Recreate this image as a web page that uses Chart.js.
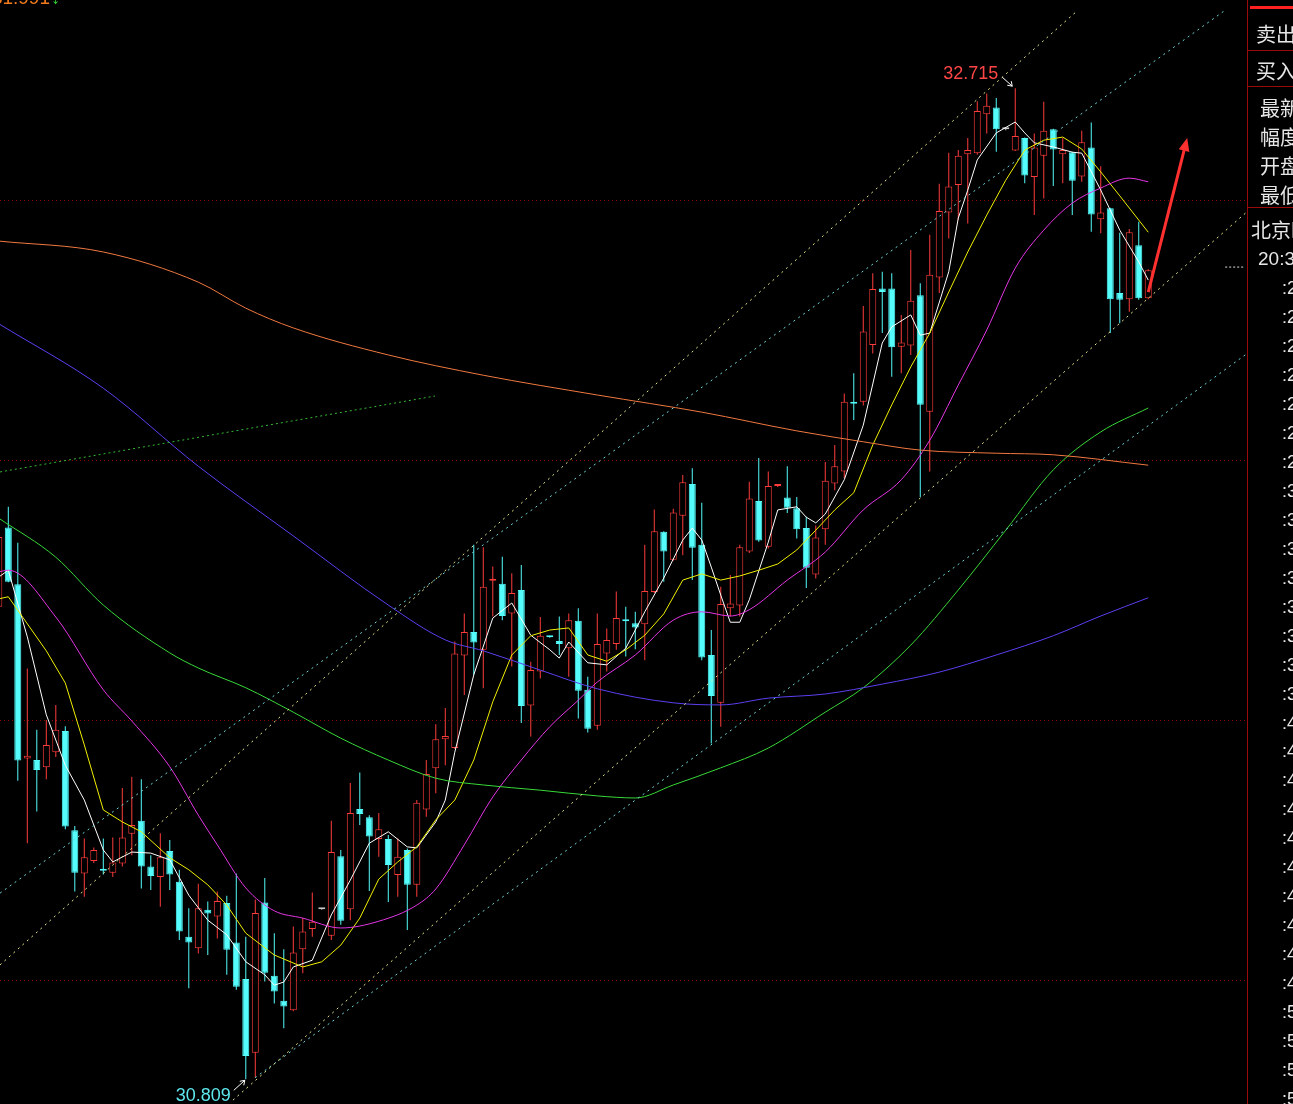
<!DOCTYPE html>
<html><head><meta charset="utf-8">
<script src="https://cdn.jsdelivr.net/npm/chart.js@4.4.1/dist/chart.umd.min.js"></script>
<style>html,body{margin:0;padding:0;background:#000;overflow:hidden}canvas{display:block}</style>
</head><body>
<canvas id="c" width="1293" height="1104"></canvas>
<script>
// ---------- candle data (index, open, high, low, close) ----------
const candleIdx = [];
for (let i = -1; i <= 120; i++) candleIdx.push(i);
const opens = [31.718,31.870,31.761,31.426,31.423,31.409,31.438,31.479,31.288,31.205,31.229,31.212,31.206,31.224,31.281,31.306,31.218,31.198,31.248,31.189,31.083,31.061,31.135,31.122,31.148,31.072,31.002,30.860,31.149,31.008,30.960,30.942,31.059,31.098,31.136,31.085,31.238,31.136,31.329,31.313,31.271,31.271,31.202,31.250,31.183,31.328,31.407,31.463,31.446,31.624,31.669,31.635,31.768,31.762,31.705,31.750,31.528,31.593,31.661,31.652,31.638,31.691,31.558,31.489,31.628,31.646,31.692,31.686,31.684,31.746,31.862,31.808,31.893,31.954,31.837,31.625,31.533,31.715,31.720,31.824,31.921,31.833,31.950,31.928,31.907,31.869,31.780,31.867,31.955,31.978,32.110,32.112,32.221,32.330,32.330,32.218,32.220,32.317,32.093,32.351,32.476,32.529,32.588,32.590,32.665,32.678,32.636,32.595,32.619,32.544,32.585,32.636,32.588,32.592,32.545,32.601,32.463,32.484,32.321,32.309,32.413,32.311];
const highs = [31.880,31.910,31.841,31.599,31.481,31.500,31.529,31.488,31.296,31.272,31.255,31.272,31.274,31.369,31.391,31.386,31.240,31.282,31.269,31.212,31.138,31.185,31.151,31.170,31.162,31.205,31.083,31.155,31.196,31.090,31.059,31.103,31.119,31.168,31.137,31.306,31.250,31.379,31.399,31.317,31.321,31.279,31.272,31.253,31.346,31.423,31.492,31.523,31.651,31.705,31.837,31.832,31.795,31.814,31.782,31.798,31.612,31.698,31.662,31.699,31.705,31.715,31.583,31.705,31.676,31.747,31.718,31.708,31.837,31.905,31.863,31.906,31.971,31.984,31.918,31.673,31.756,31.779,31.837,31.958,32.004,31.978,31.953,31.988,31.929,31.891,31.874,31.996,32.029,32.128,32.167,32.296,32.359,32.362,32.359,32.279,32.404,32.340,32.433,32.531,32.591,32.596,32.619,32.690,32.705,32.696,32.638,32.715,32.620,32.628,32.689,32.637,32.619,32.593,32.633,32.649,32.565,32.485,32.437,32.444,32.458,32.367];
const lows = [31.700,31.765,31.383,31.263,31.324,31.386,31.429,31.290,31.170,31.160,31.225,31.203,31.198,31.218,31.240,31.176,31.173,31.141,31.173,31.077,30.984,31.051,31.048,31.080,31.010,30.981,30.809,30.812,30.997,30.955,30.907,30.940,31.013,31.083,31.135,31.077,31.106,31.115,31.298,31.171,31.237,31.150,31.160,31.096,31.160,31.314,31.359,31.413,31.444,31.548,31.587,31.561,31.699,31.692,31.603,31.494,31.468,31.580,31.658,31.625,31.583,31.503,31.476,31.481,31.593,31.635,31.622,31.636,31.615,31.744,31.766,31.806,31.817,31.769,31.615,31.455,31.487,31.699,31.699,31.821,31.843,31.830,31.948,31.898,31.849,31.754,31.772,31.837,31.942,31.965,32.077,32.105,32.205,32.244,32.160,32.167,32.202,31.929,31.978,32.321,32.426,32.462,32.455,32.587,32.628,32.593,32.634,32.594,32.532,32.471,32.503,32.527,32.532,32.471,32.535,32.439,32.436,32.244,32.263,32.285,32.308,32.309];
const closes = [31.852,31.766,31.422,31.431,31.404,31.452,31.481,31.295,31.206,31.236,31.250,31.210,31.226,31.274,31.298,31.218,31.200,31.236,31.203,31.093,31.072,31.138,31.128,31.152,31.058,30.987,30.854,31.129,31.014,30.978,30.949,31.053,31.093,31.112,31.136,31.246,31.114,31.321,31.319,31.276,31.290,31.221,31.237,31.183,31.341,31.396,31.463,31.469,31.628,31.669,31.649,31.756,31.771,31.700,31.744,31.527,31.596,31.662,31.659,31.646,31.692,31.556,31.483,31.646,31.654,31.696,31.690,31.678,31.748,31.863,31.824,31.899,31.957,31.831,31.620,31.546,31.723,31.724,31.832,31.926,31.845,31.950,31.951,31.908,31.867,31.793,31.851,31.960,31.988,32.112,32.108,32.247,32.329,32.323,32.217,32.226,32.306,32.106,32.356,32.479,32.526,32.585,32.596,32.671,32.681,32.636,32.636,32.623,32.547,32.601,32.633,32.597,32.596,32.537,32.611,32.472,32.476,32.309,32.308,32.438,32.311,32.365];

// ---------- moving averages (index, value) ----------
const ma5Idx = [-1,0,2,4,6,8,10,11,13,15,17,19,21,23,25,27,28,29,30,32,34,36,38,40,42,43,45,46,47,49,51,53,55,57,58,59,61,63,65,67,69,71,72,73,74,75,76,77,78,80,81,83,84,85,86,88,90,92,93,95,96,97,99,100,101,102,104,106,107,108,110,112,113,115,117,119,120];
const ma5 = [31.775,31.788,31.660,31.510,31.413,31.346,31.250,31.227,31.246,31.244,31.231,31.163,31.115,31.087,31.035,31.010,30.990,30.996,31.025,31.038,31.125,31.192,31.263,31.285,31.256,31.254,31.304,31.346,31.438,31.587,31.696,31.725,31.663,31.635,31.619,31.650,31.610,31.606,31.638,31.708,31.773,31.846,31.869,31.846,31.794,31.740,31.688,31.688,31.731,31.842,31.904,31.910,31.890,31.879,31.896,31.962,32.067,32.225,32.256,32.279,32.240,32.244,32.362,32.465,32.519,32.577,32.629,32.650,32.629,32.610,32.602,32.592,32.590,32.519,32.442,32.381,32.346];
const ma10Idx = [-1,0,4,6,8,10,12,14,17,19,21,23,25,28,31,33,35,37,39,41,43,45,47,49,51,53,55,57,59,61,63,65,67,69,71,73,75,77,79,81,83,85,87,89,91,93,95,97,99,101,103,105,107,109,111,113,115,117,120];
const ma10 = [31.733,31.737,31.633,31.571,31.452,31.327,31.304,31.285,31.235,31.212,31.183,31.144,31.090,31.048,31.025,31.035,31.067,31.119,31.194,31.227,31.256,31.308,31.346,31.423,31.535,31.625,31.662,31.673,31.677,31.625,31.613,31.635,31.663,31.704,31.769,31.781,31.769,31.777,31.788,31.800,31.827,31.865,31.904,31.937,32.029,32.106,32.179,32.244,32.323,32.400,32.471,32.538,32.596,32.615,32.621,32.598,32.554,32.508,32.438];
const ma20Idx = [-1,0,5,10,13,17,20,22,25,28,31,35,39,43,45,48,51,54,57,60,62,66,70,73,76,78,82,86,90,94,97,100,103,106,109,112,115,118,120];
const ma20 = [31.785,31.788,31.698,31.558,31.498,31.410,31.317,31.260,31.177,31.133,31.119,31.100,31.113,31.144,31.175,31.260,31.352,31.423,31.487,31.538,31.573,31.625,31.692,31.708,31.700,31.712,31.769,31.823,31.904,31.962,32.038,32.144,32.250,32.369,32.442,32.494,32.523,32.542,32.535];
const ma60Idx = [-1,5,10,17,20,25,30,35,40,45,50,56,62,66,70,75,80,86,90,95,100,105,110,115,120];
const ma60 = [31.888,31.813,31.721,31.629,31.600,31.562,31.515,31.465,31.423,31.388,31.375,31.365,31.354,31.350,31.375,31.408,31.446,31.515,31.562,31.644,31.750,31.865,31.981,32.054,32.100];
const ma120Idx = [-1,10,20,30,40,46,50,56,62,70,75,80,86,92,98,104,110,115,120];
const ma120 = [32.262,32.138,31.988,31.854,31.721,31.654,31.633,31.596,31.560,31.533,31.529,31.542,31.550,31.569,31.592,31.625,31.662,31.700,31.735];
const ma250Idx = [-1,10,20,25,30,40,50,62,73,83,90,96,104,110,120];
const ma250 = [32.421,32.400,32.342,32.292,32.254,32.202,32.163,32.125,32.092,32.056,32.035,32.019,32.013,32.010,31.990];

// ---------- drawn trend lines (index, price endpoints) ----------
const upYellowIdx = [-0.87, 112.6], upYellowVal = [31.029, 32.865];
const lowYellowIdx = [23.65, 130.5], lowYellowVal = [30.769, 32.479];
const upCyanIdx = [-0.87, 128.1], upCyanVal = [31.167, 32.865];
const lowCyanIdx = [25.97, 130.5], lowCyanVal = [30.812, 32.206];
const greenDotIdx = [-0.87, 44.92], greenDotVal = [31.977, 32.123];
const markIdx = [128.1, 130.2], markVal = [32.371, 32.371];
const arrowIdx = [120.0, 124.1], arrowVal = [32.323, 32.619];

// ---------- labels ----------
const gridPrices = [31.0, 31.5, 32.0, 32.5];
const hiIdx = 106, hiVal = 32.715;
const loIdx = 25, loVal = 30.809;
const topLeftText = '31.991';
const panelTop = ['卖出价', '买入价'];
const panelMid = ['最新价', '幅度', '开盘价', '最低价'];
const panelCity = '北京时间';
const panelClock = '20:32';
const timeRows = [':21',':22',':23',':24',':25',':26',':27',':30',':31',':32',':33',':34',':35',':36',':37',':40',':41',':42',':43',':44',':45',':46',':47',':48',':49',':50',':51',':52',':53'];

const RED = '#ff3c3c', CYAN = '#54fcfc', GRAY = '#c8c8c8';
const dir = candleIdx.map((_, k) => closes[k] > opens[k] ? 1 : (closes[k] < opens[k] ? -1 : 0));
const col = dir.map(d => d > 0 ? RED : (d < 0 ? CYAN : GRAY));
const pts = (ix, vals) => ix.map((x, k) => ({x, y: vals[k]}));

const bgPlugin = {
  id: 'bg',
  beforeDraw(chart) {
    const c = chart.ctx; c.save(); c.fillStyle = '#000'; c.fillRect(0, 0, chart.width, chart.height); c.restore();
  },
  beforeDatasetsDraw(chart) {
    const {ctx, chartArea, scales: {y}} = chart;
    ctx.save(); ctx.strokeStyle = '#8a0000'; ctx.lineWidth = 1; ctx.setLineDash([1, 3]);
    gridPrices.forEach(v => {
      const py = Math.round(y.getPixelForValue(v)) + 0.5;
      ctx.beginPath(); ctx.moveTo(chartArea.left, py); ctx.lineTo(chartArea.right, py); ctx.stroke();
    });
    ctx.restore();
  }
};

function arrowLine(ctx, x1, y1, x2, y2, color, w, head) {
  ctx.save(); ctx.strokeStyle = color; ctx.fillStyle = color; ctx.lineWidth = w;
  const a = Math.atan2(y2 - y1, x2 - x1);
  const bx = x2 - head * 0.8 * Math.cos(a), by = y2 - head * 0.8 * Math.sin(a);
  ctx.beginPath(); ctx.moveTo(x1, y1); ctx.lineTo(bx, by); ctx.stroke();
  ctx.beginPath(); ctx.moveTo(x2, y2);
  ctx.lineTo(x2 - head * Math.cos(a - 0.4), y2 - head * Math.sin(a - 0.4));
  ctx.lineTo(x2 - head * Math.cos(a + 0.4), y2 - head * Math.sin(a + 0.4));
  ctx.closePath(); ctx.fill(); ctx.restore();
}

const annotPlugin = {
  id: 'annot',
  afterDatasetsDraw(chart) {
    const {ctx, scales: {x, y}} = chart;
    ctx.save();
    ctx.font = '18px "Liberation Sans", Arial, sans-serif';
    ctx.textBaseline = 'middle'; ctx.textAlign = 'right';
    const hx = x.getPixelForValue(hiIdx), hy = y.getPixelForValue(hiVal);
    ctx.fillStyle = '#ff4646'; ctx.fillText(hiVal.toFixed(3), hx - 17, hy - 14);
    ctx.strokeStyle = '#fff'; ctx.lineWidth = 1;
    ctx.beginPath(); ctx.moveTo(hx - 13, hy - 11); ctx.lineTo(hx - 3, hy - 2); ctx.stroke();
    ctx.beginPath(); ctx.moveTo(hx - 3, hy - 2); ctx.lineTo(hx - 8, hy - 3); ctx.moveTo(hx - 3, hy - 2); ctx.lineTo(hx - 4, hy - 7); ctx.stroke();
    const lx = x.getPixelForValue(loIdx), ly = y.getPixelForValue(loVal);
    ctx.fillStyle = '#5ee8ee'; ctx.fillText(loVal.toFixed(3), lx - 15, ly + 17);
    ctx.beginPath(); ctx.moveTo(lx - 12, ly + 11); ctx.lineTo(lx - 1, ly + 1); ctx.stroke();
    ctx.beginPath(); ctx.moveTo(lx - 1, ly + 1); ctx.lineTo(lx - 6, ly + 2); ctx.moveTo(lx - 1, ly + 1); ctx.lineTo(lx - 2, ly + 6); ctx.stroke();
    // red arrow
    arrowLine(ctx, x.getPixelForValue(arrowIdx[0]), y.getPixelForValue(arrowVal[0]),
      x.getPixelForValue(arrowIdx[1]), y.getPixelForValue(arrowVal[1]), '#ff3030', 3, 14);
    // top-left clipped value
    ctx.textAlign = 'right'; ctx.textBaseline = 'alphabetic';
    ctx.font = '19px "Liberation Sans", Arial, sans-serif';
    ctx.fillStyle = '#f07a1e'; ctx.fillText(topLeftText, 50, 4);
    ctx.textAlign = 'left'; ctx.fillStyle = '#30d030'; ctx.fillText('↓', 51, 4);
    ctx.restore();
  },
  afterDraw(chart) {
    const {ctx} = chart;
    ctx.save();
    ctx.strokeStyle = '#9a0a0a'; ctx.lineWidth = 1;
    ctx.beginPath(); ctx.moveTo(1247.5, 0); ctx.lineTo(1247.5, 1104); ctx.stroke();
    [50.5, 86.5, 207.5].forEach(py => { ctx.beginPath(); ctx.moveTo(1248, py); ctx.lineTo(1293, py); ctx.stroke(); });
    ctx.fillStyle = '#ff2020'; ctx.fillRect(1250, 6, 43, 3);
    ctx.fillStyle = '#e6e6e6'; ctx.textBaseline = 'middle'; ctx.textAlign = 'left';
    ctx.font = '20px "Noto Sans CJK SC", sans-serif';
    ctx.fillText(panelTop[0], 1256, 34);
    ctx.fillText(panelTop[1], 1256, 71);
    const midY = [108, 137, 166, 195];
    panelMid.forEach((t, k) => ctx.fillText(t, 1260, midY[k]));
    ctx.fillText(panelCity, 1251, 230);
    ctx.font = '19px "Liberation Sans", Arial, sans-serif';
    ctx.fillText(panelClock, 1258, 260);
    ctx.font = '18px "Liberation Sans", Arial, sans-serif';
    timeRows.forEach((t, k) => ctx.fillText(t, 1282, 289 + k * 28.97));
    ctx.restore();
  }
};

const lineDs = (data, color, extra) => Object.assign({
  type: 'line', data, borderColor: color, borderWidth: 1, pointRadius: 0, fill: false, tension: 0, order: 1
}, extra || {});

new Chart(document.getElementById('c'), {
  type: 'bar',
  data: {
    datasets: [
      { type: 'bar', data: candleIdx.map((i, k) => ({x: i, y: [lows[k], highs[k]]})),
        backgroundColor: col, borderWidth: 0, barThickness: 1, grouped: false, order: 3, inflateAmount: 0 },
      { type: 'bar', data: candleIdx.map((i, k) => ({x: i, y: [opens[k], closes[k]]})),
        backgroundColor: dir.map(d => d > 0 ? '#000' : (d < 0 ? CYAN : GRAY)), borderColor: col,
        borderWidth: 1, borderSkipped: false, barThickness: 7, minBarLength: 2, grouped: false, order: 2, inflateAmount: 0 },
      lineDs(pts(ma250Idx, ma250), '#f07840', {cubicInterpolationMode: 'monotone'}),
      lineDs(pts(ma120Idx, ma120), '#5a40f0', {cubicInterpolationMode: 'monotone'}),
      lineDs(pts(ma60Idx, ma60), '#38d838', {cubicInterpolationMode: 'monotone'}),
      lineDs(pts(ma20Idx, ma20), '#e436e4', {cubicInterpolationMode: 'monotone'}),
      lineDs(pts(ma10Idx, ma10), '#f0f000'),
      lineDs(pts(ma5Idx, ma5), '#ffffff'),
      lineDs(pts(upYellowIdx, upYellowVal), '#e6e68a', {borderDash: [2, 4], order: 0}),
      lineDs(pts(lowYellowIdx, lowYellowVal), '#e6e68a', {borderDash: [2, 4], order: 0}),
      lineDs(pts(upCyanIdx, upCyanVal), '#70d6d6', {borderDash: [2, 4], order: 0}),
      lineDs(pts(lowCyanIdx, lowCyanVal), '#70d6d6', {borderDash: [2, 4], order: 0}),
      lineDs(pts(greenDotIdx, greenDotVal), '#34b834', {borderDash: [2, 3], order: 0}),
      lineDs(pts(markIdx, markVal), '#dddddd', {borderDash: [2, 2], order: 0, clip: false})
    ]
  },
  options: {
    responsive: false, animation: false, devicePixelRatio: 1, events: [],
    layout: {padding: {left: 0, right: 45, top: 0, bottom: 0}},
    plugins: {legend: {display: false}, tooltip: {enabled: false}},
    scales: {
      x: {type: 'linear', display: false, offset: false, min: -0.874, max: 130.5},
      y: {type: 'linear', display: false, min: 30.7615, max: 32.8846}
    }
  },
  plugins: [bgPlugin, annotPlugin]
});
</script>
</body></html>
